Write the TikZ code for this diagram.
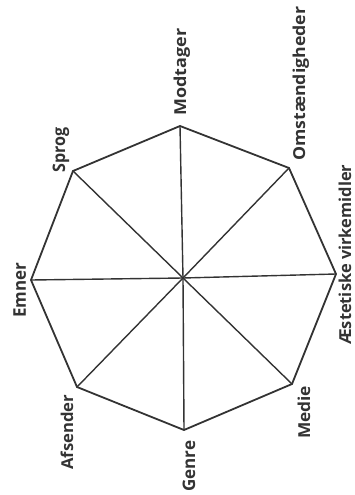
\documentclass[tikz,border=0pt]{standalone}
\usepackage{fontspec}
\setmainfont{Open Sans}
\definecolor{ink}{HTML}{333333}
\newcommand{\lbl}[2]{\resizebox{#1pt}{12.5pt}{#2}}
\begin{document}
\begin{tikzpicture}[x=1pt,y=-1pt,
  edge/.style={draw=ink,line width=1.8pt,line join=miter},
  spoke/.style={draw=ink,line width=1.4pt},
  lab/.style={rotate=90,anchor=base west,inner sep=0pt,text=ink,font=\bfseries}]
\useasboundingbox (0,0) rectangle (355,495);
\coordinate (T) at (180,126);
\coordinate (UR) at (289,168);
\coordinate (R) at (336,274);
\coordinate (LR) at (292,384);
\coordinate (B) at (184,430);
\coordinate (LL) at (77,387);
\coordinate (L) at (31,280);
\coordinate (UL) at (73,171);
\coordinate (C) at (183,278);
\foreach \v in {T,UR,R,LR,B,LL,L,UL} \draw[spoke] (C) -- (\v);
\draw[edge] (T) -- (UR) -- (R) -- (LR) -- (B) -- (LL) -- (L) -- (UL) -- cycle;
\node[lab] (modtager) at (186,116) {\lbl{87}{Modtager}};
\node[lab] (omst) at (305,161) {\lbl{154}{Omstændigheder}};
\node[lab] (aest) at (351,345) {\lbl{180}{Æstetiske virkemidler}};
\node[lab] (sprog) at (65,173) {\lbl{45}{Sprog}};
\node[lab] (emner) at (26,318) {\lbl{55}{Emner}};
\node[lab] (afsender) at (73,470) {\lbl{75}{Afsender}};
\node[lab] (genre) at (195,492) {\lbl{51}{Genre}};
\node[lab] (medie) at (310,439) {\lbl{53}{Medie}};
\end{tikzpicture}
\end{document}
